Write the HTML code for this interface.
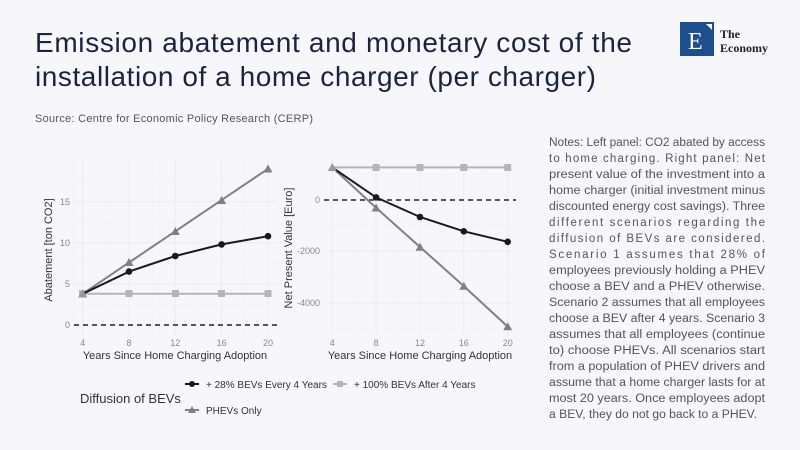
<!DOCTYPE html>
<html><head><meta charset="utf-8"><style>
html,body{margin:0;padding:0;background:#f7f7fb;}
svg{display:block;font-family:"Liberation Sans",sans-serif;}
</style></head><body>
<svg width="800" height="450" viewBox="0 0 800 450" xmlns="http://www.w3.org/2000/svg">
<rect width="800" height="450" fill="#f7f7fb"/>
<text x="35" y="52" font-size="28" fill="#1c2340" textLength="597">Emission abatement and monetary cost of the</text>
<text x="35" y="86" font-size="28" fill="#1c2340" textLength="561">installation of a home charger (per charger)</text>
<text x="35" y="122" font-size="11" fill="#555" textLength="278">Source: Centre for Economic Policy Research (CERP)</text>
<rect x="680" y="22" width="34" height="34" fill="#1d4f8c"/>
<text x="688" y="49" font-family="Liberation Serif,serif" font-size="24" fill="#fff">E</text>
<polygon points="706,24 712,24 712,30" fill="#fff"/>
<text x="720" y="38" font-family="Liberation Serif,serif" font-size="12" font-weight="bold" fill="#222">The</text>
<text x="720" y="52" font-family="Liberation Serif,serif" font-size="12" font-weight="bold" fill="#222">Economy</text>

<g stroke="#ececec" stroke-width="1">
<line x1="74" y1="160" x2="74" y2="335" stroke="#f2f2f2"/>
<line x1="82.7" y1="160" x2="82.7" y2="335"/><line x1="129" y1="160" x2="129" y2="335"/><line x1="175.3" y1="160" x2="175.3" y2="335"/><line x1="221.6" y1="160" x2="221.6" y2="335"/><line x1="268" y1="160" x2="268" y2="335"/>
<line x1="105.9" y1="160" x2="105.9" y2="335" stroke="#f3f3f3"/><line x1="152.2" y1="160" x2="152.2" y2="335" stroke="#f3f3f3"/><line x1="198.5" y1="160" x2="198.5" y2="335" stroke="#f3f3f3"/><line x1="244.8" y1="160" x2="244.8" y2="335" stroke="#f3f3f3"/>
<line x1="74" y1="325" x2="277" y2="325"/><line x1="74" y1="283.9" x2="277" y2="283.9"/><line x1="74" y1="242.8" x2="277" y2="242.8"/><line x1="74" y1="201.7" x2="277" y2="201.7"/>
<line x1="74" y1="304.5" x2="277" y2="304.5" stroke="#f3f3f3"/><line x1="74" y1="263.4" x2="277" y2="263.4" stroke="#f3f3f3"/><line x1="74" y1="222.3" x2="277" y2="222.3" stroke="#f3f3f3"/><line x1="74" y1="181.2" x2="277" y2="181.2" stroke="#f3f3f3"/>
</g>
<line x1="74" y1="325" x2="277" y2="325" stroke="#222" stroke-width="1.5" stroke-dasharray="5,4"/>
<g font-size="9" fill="#888" text-anchor="end">
<text x="70" y="328">0</text><text x="70" y="287">5</text><text x="70" y="246">10</text><text x="70" y="205">15</text>
</g>
<g font-size="9" fill="#888" text-anchor="middle">
<text x="82.7" y="346">4</text><text x="129" y="346">8</text><text x="175.3" y="346">12</text><text x="221.6" y="346">16</text><text x="268" y="346">20</text>
</g>
<text x="175" y="359" font-size="11" fill="#333" text-anchor="middle">Years Since Home Charging Adoption</text>
<text transform="translate(52,250) rotate(-90)" font-size="11" fill="#333" text-anchor="middle">Abatement [ton CO2]</text>
<polyline points="82.7,293.8 129,293.8 175.3,293.8 221.6,293.8 268,293.8" fill="none" stroke="#b5b5b5" stroke-width="2"/>
<g fill="#b5b5b5"><rect x="79" y="290" width="7" height="7"/><rect x="125.5" y="290" width="7" height="7"/><rect x="172" y="290" width="7" height="7"/><rect x="218" y="290" width="7" height="7"/><rect x="264.5" y="290" width="7" height="7"/></g>
<polyline points="82.7,293.8 129,262.5 175.3,231.3 221.6,200.1 268,168.8" fill="none" stroke="#808080" stroke-width="2"/>
<g fill="#808080"><polygon points="129,258 133.5,266 124.5,266"/><polygon points="175.3,227 179.8,235 170.8,235"/><polygon points="221.6,196 226.1,204 217.1,204"/><polygon points="268,164.5 272.5,172.5 263.5,172.5"/><polygon points="82.7,289.5 87.2,297.5 78.2,297.5"/></g>
<polyline points="82.7,293.8 129,271.6 175.3,256 221.6,244.4 268,236.2" fill="none" stroke="#1a1a1a" stroke-width="2"/>
<g fill="#1a1a1a"><circle cx="129" cy="271.6" r="3.3"/><circle cx="175.3" cy="256" r="3.3"/><circle cx="221.6" cy="244.4" r="3.3"/><circle cx="268" cy="236.2" r="3.3"/></g>
<polygon points="82.7,289.5 87.2,297.5 78.2,297.5" fill="#999"/>

<g stroke="#ececec" stroke-width="1">
<line x1="332.3" y1="160" x2="332.3" y2="335"/><line x1="376.1" y1="160" x2="376.1" y2="335"/><line x1="420" y1="160" x2="420" y2="335"/><line x1="463.8" y1="160" x2="463.8" y2="335"/><line x1="507.7" y1="160" x2="507.7" y2="335"/>
<line x1="354.2" y1="160" x2="354.2" y2="335" stroke="#f3f3f3"/><line x1="398" y1="160" x2="398" y2="335" stroke="#f3f3f3"/><line x1="441.9" y1="160" x2="441.9" y2="335" stroke="#f3f3f3"/><line x1="485.7" y1="160" x2="485.7" y2="335" stroke="#f3f3f3"/>
<line x1="324" y1="251" x2="516" y2="251"/><line x1="324" y1="303" x2="516" y2="303"/>
<line x1="324" y1="174" x2="516" y2="174" stroke="#f3f3f3"/><line x1="324" y1="226" x2="516" y2="226" stroke="#f3f3f3"/><line x1="324" y1="277" x2="516" y2="277" stroke="#f3f3f3"/><line x1="324" y1="329" x2="516" y2="329" stroke="#f3f3f3"/>
</g>
<line x1="324" y1="200" x2="516" y2="200" stroke="#222" stroke-width="1.5" stroke-dasharray="5,4"/>
<g font-size="9" fill="#888" text-anchor="end">
<text x="320" y="203">0</text><text x="320" y="254">-2000</text><text x="320" y="306">-4000</text>
</g>
<g font-size="9" fill="#888" text-anchor="middle">
<text x="332.3" y="346">4</text><text x="376.1" y="346">8</text><text x="420" y="346">12</text><text x="463.8" y="346">16</text><text x="507.7" y="346">20</text>
</g>
<text x="420" y="359" font-size="11" fill="#333" text-anchor="middle">Years Since Home Charging Adoption</text>
<text transform="translate(292,248) rotate(-90)" font-size="11" fill="#333" text-anchor="middle">Net Present Value [Euro]</text>
<polyline points="332.3,167.4 376.1,167.4 420,167.4 463.8,167.4 507.7,167.4" fill="none" stroke="#b5b5b5" stroke-width="2"/>
<g fill="#b5b5b5"><rect x="372.6" y="164" width="7" height="7"/><rect x="416.5" y="164" width="7" height="7"/><rect x="460.3" y="164" width="7" height="7"/><rect x="504.2" y="164" width="7" height="7"/></g>
<polyline points="332.3,167.4 376.1,207.8 420,247 463.8,286.1 507.7,326.6" fill="none" stroke="#808080" stroke-width="2"/>
<g fill="#808080"><polygon points="376.1,203.5 380.6,211.5 371.6,211.5"/><polygon points="420,242.7 424.5,250.7 415.5,250.7"/><polygon points="463.8,281.8 468.3,289.8 459.3,289.8"/><polygon points="507.7,322.3 512.2,330.3 503.2,330.3"/></g>
<polyline points="332.3,167.4 376.1,197.4 420,217 463.8,231.3 507.7,241.8" fill="none" stroke="#1a1a1a" stroke-width="2"/>
<g fill="#1a1a1a"><circle cx="376.1" cy="197.4" r="3.3"/><circle cx="420" cy="217" r="3.3"/><circle cx="463.8" cy="231.3" r="3.3"/><circle cx="507.7" cy="241.8" r="3.3"/></g>
<polygon points="332.3,163 336.8,171 327.8,171" fill="#999"/>

<text x="80" y="403" font-size="13" fill="#333">Diffusion of BEVs</text>
<line x1="185" y1="384" x2="199" y2="384" stroke="#1a1a1a" stroke-width="2"/><circle cx="192" cy="384" r="3" fill="#1a1a1a"/>
<text x="206" y="388" font-size="10" fill="#333">+ 28% BEVs Every 4 Years</text>
<line x1="333" y1="384" x2="347" y2="384" stroke="#b5b5b5" stroke-width="2"/><rect x="337" y="381" width="6" height="6" fill="#b5b5b5"/>
<text x="354" y="388" font-size="10" fill="#333">+ 100% BEVs After 4 Years</text>
<line x1="185" y1="410" x2="199" y2="410" stroke="#808080" stroke-width="2"/><polygon points="192,406 196,413 188,413" fill="#808080"/>
<text x="206" y="414" font-size="10" fill="#333">PHEVs Only</text>

<g font-size="11.5" fill="#555">
<text x="549" y="146" textLength="216" lengthAdjust="spacingAndGlyphs">Notes: Left panel: CO2 abated by access</text>
<text x="549" y="162" textLength="216" lengthAdjust="spacing">to home charging. Right panel: Net</text>
<text x="549" y="178" textLength="216" lengthAdjust="spacingAndGlyphs">present value of the investment into a</text>
<text x="549" y="194" textLength="216" lengthAdjust="spacingAndGlyphs">home charger (initial investment minus</text>
<text x="549" y="210" textLength="216" lengthAdjust="spacingAndGlyphs">discounted energy cost savings). Three</text>
<text x="549" y="226" textLength="216" lengthAdjust="spacing">different scenarios regarding the</text>
<text x="549" y="242" textLength="216" lengthAdjust="spacing">diffusion of BEVs are considered.</text>
<text x="549" y="258" textLength="216" lengthAdjust="spacing">Scenario 1 assumes that 28% of</text>
<text x="549" y="274" textLength="216" lengthAdjust="spacingAndGlyphs">employees previously holding a PHEV</text>
<text x="549" y="290" textLength="216" lengthAdjust="spacingAndGlyphs">choose a BEV and a PHEV otherwise.</text>
<text x="549" y="306" textLength="216" lengthAdjust="spacingAndGlyphs">Scenario 2 assumes that all employees</text>
<text x="549" y="322" textLength="216" lengthAdjust="spacingAndGlyphs">choose a BEV after 4 years. Scenario 3</text>
<text x="549" y="338" textLength="216" lengthAdjust="spacingAndGlyphs">assumes that all employees (continue</text>
<text x="549" y="354" textLength="216" lengthAdjust="spacingAndGlyphs">to) choose PHEVs. All scenarios start</text>
<text x="549" y="370" textLength="216" lengthAdjust="spacingAndGlyphs">from a population of PHEV drivers and</text>
<text x="549" y="386" textLength="216" lengthAdjust="spacingAndGlyphs">assume that a home charger lasts for at</text>
<text x="549" y="402" textLength="216" lengthAdjust="spacingAndGlyphs">most 20 years. Once employees adopt</text>
<text x="549" y="418" textLength="208" lengthAdjust="spacingAndGlyphs">a BEV, they do not go back to a PHEV.</text>
</g>
</svg>
</body></html>
